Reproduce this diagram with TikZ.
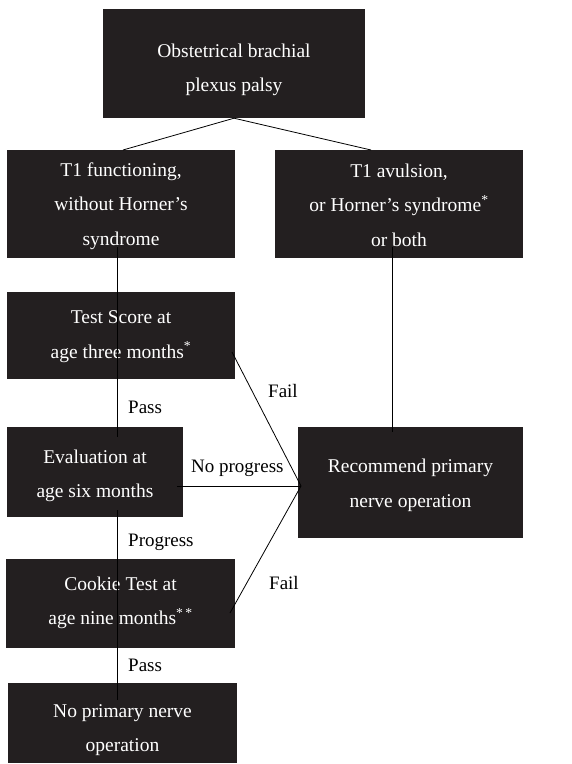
\documentclass[tikz,border=0pt]{standalone}
\usepackage{fontspec}
\setmainfont{Liberation Serif}
\definecolor{boxfill}{HTML}{231F20}
\begin{document}
\begin{tikzpicture}[x=1pt,y=-1pt,
  box/.style={fill=boxfill,inner sep=0pt},
  boxtext/.style={text=white,inner sep=0pt,align=center,
    font=\fontsize{19.5}{34.5}\selectfont},
  lab/.style={text=black,inner sep=0pt,font=\fontsize{19}{22}\selectfont},
  conn/.style={draw=black,line width=0.8pt}]
\useasboundingbox (0,0) rectangle (571,764);
\node[box,minimum width=262,minimum height=109] (top) at (234,63.5) {};
\node[box,minimum width=228,minimum height=108] (t1) at (121,204) {};
\node[box,minimum width=248,minimum height=108] (av) at (399,204) {};
\node[box,minimum width=228,minimum height=87] (test) at (121,335.5) {};
\node[box,minimum width=176,minimum height=90] (eval) at (95,472) {};
\node[box,minimum width=225,minimum height=111] (rec) at (410.5,482.5) {};
\node[box,minimum width=229,minimum height=89] (cook) at (120.5,603.5) {};
\node[box,minimum width=229,minimum height=80] (nop) at (122.5,723) {};
\node[boxtext] (topt) at (234,70) {Obstetrical brachial\\plexus palsy};
\node[boxtext] (t1t) at (121,206) {T1 functioning,\\without Horner’s\\syndrome};
\node[boxtext] (avt) at (399,205) {T1 avulsion,\\or Horner’s syndrome\textsuperscript{*}\\or both};
\node[boxtext] (testt) at (121,336.5) {Test Score at\\age three months\textsuperscript{*}};
\node[boxtext] (evalt) at (95,476) {Evaluation at\\age six months};
\node[boxtext] (rect) at (410.5,485.5) {Recommend primary\\nerve operation};
\node[boxtext] (cookt) at (120.5,603) {Cookie Test at\\age nine months\textsuperscript{*\,*}};
\node[boxtext] (nopt) at (122.5,730) {No primary nerve\\operation};
% connector end points
\coordinate (topj) at (top.south);
\coordinate (t1top) at (123,150);
\coordinate (avtop) at (371,150);
\coordinate (t1in) at (117,247);
\coordinate (evalin) at (117,437);
\coordinate (evalout) at (117,510);
\coordinate (nopin) at (117,700);
\coordinate (avin) at (392,247);
\coordinate (recin) at (392,432);
\coordinate (hub) at (301,486);
\coordinate (testout) at (232,352);
\coordinate (evalr) at (177,486);
\coordinate (cookout) at (230,613);
\draw[conn] (topj) -- (t1top);
\draw[conn] (topj) -- (avtop);
\draw[conn] (t1in) -- (evalin);
\draw[conn] (evalout) -- (nopin);
\draw[conn] (avin) -- (recin);
\draw[conn] (testout) -- (hub);
\draw[conn] (evalr) -- (hub);
\draw[conn] (cookout) -- (hub);
\node[lab,anchor=west] (l1) at (128,407) {Pass};
\node[lab,anchor=west] (l2) at (268,391) {Fail};
\node[lab,anchor=west] (l3) at (191,468) {No progress};
\node[lab,anchor=west] (l4) at (128,542) {Progress};
\node[lab,anchor=west] (l5) at (269,583) {Fail};
\node[lab,anchor=west] (l6) at (128,665) {Pass};
\end{tikzpicture}
\end{document}
